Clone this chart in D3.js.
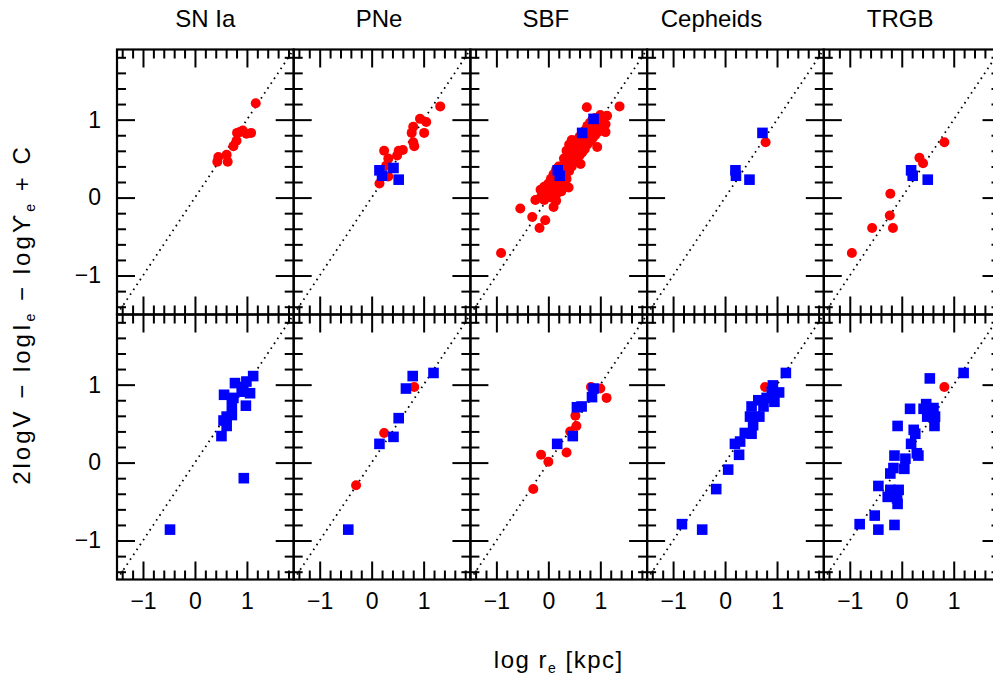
<!DOCTYPE html>
<html>
<head>
<meta charset="utf-8">
<script src="https://cdn.jsdelivr.net/npm/d3@7"></script>
<style>
	body { margin: 0; background: #fff; }
	svg { display: block; }
	text { font-family: "Liberation Sans", "DejaVu Sans", sans-serif; fill: #000; }
</style>
</head>
<body>
<div id="div_id_main"></div>
<script>

// ---------------------------------------------------------------
// data (log r_e [kpc], 2logV - logI_e - logY_e + C)

var vsPanelTitles = ["SN Ia", "PNe", "SBF", "Cepheids", "TRGB"];

var vnAxisDomain = [-1.5, 1.9];
var vnMajorTicks = [-1, 0, 1];

var dsSNIa_Top_Red = [[1.17, 1.21], [0.81, 0.83], [0.92, 0.86], [0.99, 0.82], [1.08, 0.83], [0.80, 0.73],
	[0.74, 0.66], [0.61, 0.55], [0.45, 0.52], [0.43, 0.46], [0.63, 0.46], [0.86, 0.84]];

var dsPNe_Top_Red = [[1.32, 1.17], [0.93, 1.01], [1.05, 0.97], [0.80, 0.91], [0.77, 0.83], [1.01, 0.83],
	[0.80, 0.71], [0.82, 0.66], [0.24, 0.60], [0.52, 0.60], [0.60, 0.61], [0.49, 0.54], [0.32, 0.50],
	[0.28, 0.41], [0.32, 0.27], [0.15, 0.18]];
var dsPNe_Top_Blue = [[0.15, 0.35], [0.20, 0.28], [0.42, 0.38], [0.52, 0.23]];

var dsSBF_Top_Red = [[-0.91, -0.71], [-0.54, -0.14], [-0.31, -0.25], [-0.06, -0.29], [-0.17, -0.39],
	[-0.25, -0.03], [0.10, -0.12], [0.15, -0.04], [0.74, 1.16], [1.37, 1.17], [1.13, 1.05], [1.10, 0.84],
	[0.39, 0.13], [0.94, 0.65], [0.62, 0.43],
	[-0.15, 0.00], [-0.15, 0.10], [-0.08, -0.03], [-0.08, 0.06], [-0.08, 0.14], [0.00, 0.02], [0.00, 0.10],
	[0.00, 0.18], [0.05, 0.00], [0.05, 0.14], [0.05, 0.24], [0.10, 0.06], [0.10, 0.18], [0.10, 0.30],
	[0.15, 0.04], [0.15, 0.12], [0.15, 0.24], [0.15, 0.36], [0.20, 0.10], [0.20, 0.20], [0.20, 0.30],
	[0.20, 0.40], [0.25, 0.08], [0.25, 0.18], [0.25, 0.28], [0.25, 0.40], [0.30, 0.16], [0.30, 0.28],
	[0.30, 0.40], [0.30, 0.50], [0.35, 0.24], [0.35, 0.36], [0.35, 0.48], [0.35, 0.60], [0.40, 0.34],
	[0.40, 0.46], [0.40, 0.58], [0.40, 0.68], [0.45, 0.40], [0.45, 0.52], [0.45, 0.64], [0.45, 0.74],
	[0.50, 0.46], [0.50, 0.58], [0.50, 0.70], [0.55, 0.50], [0.55, 0.62], [0.55, 0.74], [0.60, 0.54],
	[0.60, 0.66], [0.60, 0.78], [0.65, 0.58], [0.65, 0.70], [0.65, 0.82], [0.70, 0.62], [0.70, 0.74],
	[0.70, 0.86], [0.75, 0.68], [0.75, 0.80], [0.75, 0.92], [0.80, 0.72], [0.80, 0.84], [0.80, 0.96],
	[0.85, 0.76], [0.85, 0.88], [0.85, 1.00], [0.90, 0.80], [0.90, 0.92], [0.90, 1.02], [0.95, 0.84],
	[0.95, 0.96], [1.00, 0.86], [1.00, 0.98], [1.00, 1.06], [1.05, 0.90], [1.05, 1.02], [1.10, 0.94]];
var dsSBF_Top_Blue = [[0.87, 1.01], [0.65, 0.83], [0.18, 0.35], [0.22, 0.28]];

var dsCeph_Top_Red = [[0.78, 0.71]];
var dsCeph_Top_Blue = [[0.72, 0.83], [0.20, 0.35], [0.21, 0.28], [0.47, 0.23]];

var dsTRGB_Top_Red = [[0.82, 0.71], [0.34, 0.51], [0.41, 0.44], [-0.22, 0.05], [-0.23, -0.23],
	[-0.57, -0.39], [-0.17, -0.39], [-0.96, -0.71]];
var dsTRGB_Top_Blue = [[0.18, 0.35], [0.21, 0.28], [0.50, 0.23]];

var dsSNIa_Bottom_Blue = [[1.12, 1.11], [0.99, 1.04], [0.77, 1.02], [0.93, 0.97], [1.06, 0.89], [0.90, 0.91],
	[0.56, 0.87], [0.74, 0.83], [0.71, 0.74], [0.98, 0.73], [0.71, 0.61], [0.61, 0.59], [0.55, 0.54],
	[0.61, 0.47], [0.51, 0.34], [0.94, -0.20], [-0.48, -0.86]];

var dsPNe_Bottom_Red = [[0.82, 0.97], [0.24, 0.38], [-0.30, -0.29]];
var dsPNe_Bottom_Blue = [[1.19, 1.15], [0.79, 1.11], [0.66, 0.95], [0.52, 0.57], [0.42, 0.33], [0.15, 0.24],
	[-0.45, -0.86]];

var dsSBF_Bottom_Red = [[0.82, 0.97], [1.00, 0.95], [1.12, 0.83], [0.52, 0.60], [0.54, 0.47], [0.42, 0.40],
	[0.35, 0.13], [-0.14, 0.10], [0.00, 0.01], [-0.29, -0.34]];
var dsSBF_Bottom_Blue = [[0.87, 0.95], [0.84, 0.84], [0.64, 0.72], [0.55, 0.71], [0.47, 0.34], [0.17, 0.24]];

var dsCeph_Bottom_Red = [[0.77, 0.97]];
var dsCeph_Bottom_Blue = [[1.17, 1.15], [0.92, 0.99], [1.04, 0.90], [0.90, 0.91], [0.95, 0.78], [0.80, 0.83],
	[0.64, 0.80], [0.51, 0.72], [0.74, 0.72], [0.66, 0.59], [0.48, 0.59], [0.54, 0.48], [0.51, 0.37],
	[0.38, 0.38], [0.29, 0.27], [0.19, 0.24], [0.27, 0.10], [0.06, -0.09], [-0.17, -0.34], [-0.83, -0.79],
	[-0.44, -0.86]];

var dsTRGB_Bottom_Red = [[0.82, 0.97]];
var dsTRGB_Bottom_Blue = [[1.19, 1.15], [0.54, 1.08], [0.47, 0.75], [0.16, 0.69], [0.42, 0.69], [0.61, 0.70],
	[0.64, 0.59], [0.49, 0.59], [0.63, 0.47], [-0.08, 0.47], [0.23, 0.42], [0.26, 0.37], [0.18, 0.24],
	[0.29, 0.12], [0.32, 0.09], [-0.14, 0.09], [0.07, 0.05], [0.05, -0.08], [-0.16, -0.07], [-0.22, -0.14],
	[-0.45, -0.30], [-0.22, -0.35], [-0.06, -0.35], [-0.27, -0.44], [-0.09, -0.46], [-0.08, -0.53],
	[-0.52, -0.68], [-0.81, -0.79], [-0.45, -0.86], [-0.14, -0.80]];

// rows x columns
var vvRed = [
	[dsSNIa_Top_Red, dsPNe_Top_Red, dsSBF_Top_Red, dsCeph_Top_Red, dsTRGB_Top_Red],
	[[], dsPNe_Bottom_Red, dsSBF_Bottom_Red, dsCeph_Bottom_Red, dsTRGB_Bottom_Red]
];
var vvBlue = [
	[[], dsPNe_Top_Blue, dsSBF_Top_Blue, dsCeph_Top_Blue, dsTRGB_Top_Blue],
	[dsSNIa_Bottom_Blue, dsPNe_Bottom_Blue, dsSBF_Bottom_Blue, dsCeph_Bottom_Blue, dsTRGB_Bottom_Blue]
];

// ---------------------------------------------------------------

var WIDTH = 993;
var HEIGHT = 677;

var PANEL_LEFT = 117;
var PANEL_TOP = 49.5;
var PANEL_W = 176.7;
var PANEL_H = 265;

var TICK_MAJOR = 18;
var TICK_MINOR = 9;

var COLOR_RED = "#ff0000";
var COLOR_BLUE = "#0000ff";

// title shift from the panel centre, px
var vnTitleShift = [0, -3, -13, -24, -12];

var fScale_X = d3.scaleLinear().domain(vnAxisDomain).range([0, PANEL_W]);
var fScale_Y = d3.scaleLinear().domain(vnAxisDomain).range([PANEL_H, 0]);

var vnMinorTicks = d3.range(-14, 19, 2).map(function (d) { return d / 10; })
						.filter(function (d) { return Math.abs(d - Math.round(d)) > 0.01; });

function funcDraw_Main() {

	let svgMain = d3.select("#div_id_main")
					.append("svg")
						.attr("width", WIDTH)
						.attr("height", HEIGHT);

	for (let nRow = 0; nRow < 2; nRow++) {

		for (let nCol = 0; nCol < 5; nCol++) {

			let gPanel = svgMain.append("g")
								.attr("transform", "translate(" + (PANEL_LEFT + nCol * PANEL_W) + "," + (PANEL_TOP + nRow * PANEL_H) + ")");

			funcDraw_Panel(gPanel, nRow, nCol);
		}
	}

	// column titles
	for (let nCol = 0; nCol < 5; nCol++) {

		svgMain.append("text")
					.attr("x", PANEL_LEFT + nCol * PANEL_W + PANEL_W / 2 + vnTitleShift[nCol])
					.attr("y", 27)
					.attr("text-anchor", "middle")
					.attr("font-size", "24px")
					.text(vsPanelTitles[nCol]);
	}

	// x title
	let txX = svgMain.append("text")
					.attr("x", PANEL_LEFT + 2.5 * PANEL_W)
					.attr("y", 668)
					.attr("text-anchor", "middle")
					.attr("letter-spacing", "1.5px")
					.attr("font-size", "24px");
	txX.append("tspan").text("log r");
	txX.append("tspan").attr("font-size", "14px").attr("dy", 5).text("e");
	txX.append("tspan").attr("dy", -5).text(" [kpc]");

	// y title
	let txY = svgMain.append("text")
					.attr("transform", "translate(29.5," + (PANEL_TOP + PANEL_H) + ") rotate(-90)")
					.attr("text-anchor", "middle")
					.attr("letter-spacing", "3px")
					.attr("font-size", "24px");
	txY.append("tspan").text("2logV \u2212 logI");
	txY.append("tspan").attr("font-size", "14px").attr("dy", 5).text("e");
	txY.append("tspan").attr("dy", -5).text(" \u2212 log\u03d2");
	txY.append("tspan").attr("font-size", "14px").attr("dy", 5).text("e");
	txY.append("tspan").attr("dy", -5).text(" + C");
}

function funcDraw_Panel(gPanel, nRow, nCol) {

	// diagonal one-to-one line
	gPanel.append("line")
			.attr("x1", fScale_X(vnAxisDomain[0]))
			.attr("y1", fScale_Y(vnAxisDomain[0]))
			.attr("x2", fScale_X(vnAxisDomain[1]))
			.attr("y2", fScale_Y(vnAxisDomain[1]))
			.attr("stroke", "#000")
			.attr("stroke-width", 1.8)
			.attr("stroke-dasharray", "1.6,4.3");

	gPanel.selectAll("circle.red")
			.data(vvRed[nRow][nCol])
			.enter()
			.append("circle")
				.attr("class", "red")
				.attr("cx", function (d) { return fScale_X(d[0]); })
				.attr("cy", function (d) { return fScale_Y(d[1]); })
				.attr("r", 5)
				.attr("fill", COLOR_RED);

	gPanel.selectAll("rect.blue")
			.data(vvBlue[nRow][nCol])
			.enter()
			.append("rect")
				.attr("class", "blue")
				.attr("x", function (d) { return fScale_X(d[0]) - 5.3; })
				.attr("y", function (d) { return fScale_Y(d[1]) - 5.3; })
				.attr("width", 10.6)
				.attr("height", 10.6)
				.attr("fill", COLOR_BLUE);

	// axes, ticks inward on all four sides
	let bShowX = (nRow == 1);
	let bShowY = (nCol == 0);

	funcDraw_Axis(gPanel, d3.axisBottom(fScale_X), "translate(0," + PANEL_H + ")", bShowX, 13);
	funcDraw_Axis(gPanel, d3.axisTop(fScale_X), "translate(0,0)", false, 13);
	funcDraw_Axis(gPanel, d3.axisLeft(fScale_Y), "translate(0,0)", bShowY, 16);
	funcDraw_Axis(gPanel, d3.axisRight(fScale_Y), "translate(" + PANEL_W + ",0)", false, 16);

	gPanel.append("rect")
			.attr("width", PANEL_W)
			.attr("height", PANEL_H)
			.attr("fill", "none")
			.attr("stroke", "#000")
			.attr("stroke-width", 2.2);
}

function funcDraw_Axis(gPanel, axis, sTransform, bLabels, nPadding) {

	let gMajor = gPanel.append("g")
						.attr("transform", sTransform)
						.call(axis.tickValues(vnMajorTicks)
								  .tickSize(-TICK_MAJOR)
								  .tickPadding(nPadding)
								  .tickFormat(function (d) { return bLabels ? d3.format("")(d).replace("-", "\u2212") : ""; }));

	gMajor.select(".domain").remove();
	gMajor.selectAll("line").attr("stroke-width", 2);
	gMajor.selectAll("text")
			.attr("font-size", "23px")
			.attr("font-family", "Liberation Sans, sans-serif")
			.attr("fill", "#000");

	let gMinor = gPanel.append("g")
						.attr("transform", sTransform)
						.call(axis.tickValues(vnMinorTicks)
								  .tickSize(-TICK_MINOR)
								  .tickFormat(""));

	gMinor.select(".domain").remove();
	gMinor.selectAll("line").attr("stroke-width", 2);
}

funcDraw_Main();

</script>
</body>
</html>
